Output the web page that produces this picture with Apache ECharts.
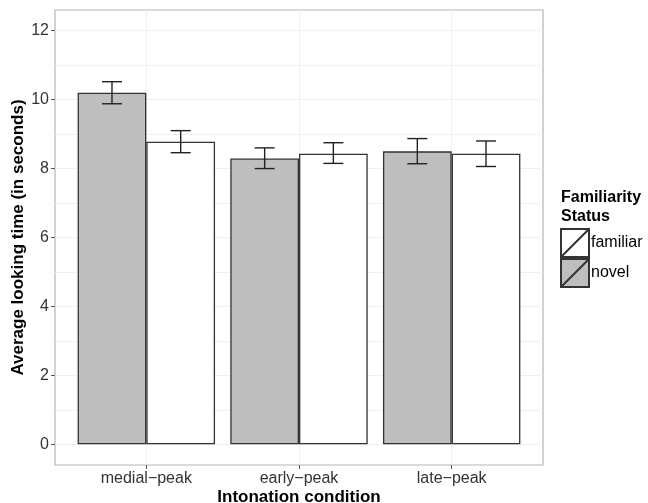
<!DOCTYPE html>
<html>
<head>
<meta charset="utf-8">
<script src="https://cdn.jsdelivr.net/npm/echarts@6/dist/echarts.min.js"></script>
<style>
  html, body { margin: 0; padding: 0; background: #fff; }
  #chart { width: 648px; height: 503px; }
</style>
</head>
<body>
<div id="chart"></div>
<script>
// Looking-time bar chart with error bars, ggplot-style panel.
var categories = ["medial\u2212peak", "early\u2212peak", "late\u2212peak"];
var novelMean = [10.2, 8.29, 8.5];
var novelLow = [9.88, 8.0, 8.14];
var novelHigh = [10.52, 8.6, 8.87];
var familiarMean = [8.78, 8.43, 8.43];
var familiarLow = [8.46, 8.15, 8.06];
var familiarHigh = [9.1, 8.75, 8.8];
var yTicks = [0, 2, 4, 6, 8, 10, 12];
var yMinor = [1, 3, 5, 7, 9, 11];

(function () {
  var el = document.getElementById("chart");
  var chart = echarts.init(el, null, { renderer: "canvas" });
  var FONT = "Liberation Sans";

  // error bar renderer; side -1 = left bar, +1 = right bar
  function errBar(side) {
    return function (params, api) {
      var i = api.value(0);
      var lo = api.coord([i, api.value(1)]);
      var hi = api.coord([i, api.value(2)]);
      var band = api.size([1, 0])[0];
      var x = lo[0] + side * band * 0.225;
      var half = 10;
      var style = { stroke: "#222", lineWidth: 1.4 };
      return {
        type: "group",
        children: [
          { type: "line", shape: { x1: x, y1: lo[1], x2: x, y2: hi[1] }, style: style },
          { type: "line", shape: { x1: x - half, y1: lo[1], x2: x + half, y2: lo[1] }, style: style },
          { type: "line", shape: { x1: x - half, y1: hi[1], x2: x + half, y2: hi[1] }, style: style }
        ]
      };
    };
  }

  var boxIcon = "path://M0,0L28,0L28,28L0,28Z M0,28L28,0";

  chart.setOption({
    backgroundColor: "#fff",
    animation: false,
    textStyle: { fontFamily: FONT },
    grid: [
      { left: 70, right: 120, top: 10, bottom: 38, containLabel: false, outerBoundsMode: "none" },
      { left: 55, right: 105, top: 10, bottom: 38, show: true, borderColor: "#b5b5b5", borderWidth: 1.2, backgroundColor: "#fff", z: 0, outerBoundsMode: "none" }
    ],
    xAxis: [
      {
        type: "category",
        gridIndex: 0,
        data: categories,
        name: "Intonation condition",
        nameLocation: "middle",
        nameGap: 24,
        nameMoveOverlap: false,
        nameTextStyle: { fontSize: 17, fontWeight: "bold", color: "#000", fontFamily: FONT },
        axisLine: { show: false, onZero: false },
        axisTick: { show: true, alignWithLabel: true, length: 4, lineStyle: { color: "#555" } },
        axisLabel: { fontSize: 16, color: "#333", margin: 6, fontFamily: FONT },
        splitLine: { show: false }
      },
      {
        type: "value",
        gridIndex: 1,
        min: 0.4,
        max: 3.6,
        axisLine: { show: false, onZero: false },
        axisTick: { show: false, customValues: [1, 2, 3] },
        axisLabel: { show: false, customValues: [1, 2, 3] },
        splitLine: { show: true, lineStyle: { color: "#f0f0f0", width: 1 } }
      }
    ],
    yAxis: [
      {
        type: "value",
        gridIndex: 0,
        min: -0.6,
        max: 12.6,
        offset: 15,
        name: "Average looking time (in seconds)",
        nameLocation: "middle",
        nameGap: 28,
        nameMoveOverlap: false,
        nameTextStyle: { fontSize: 17, fontWeight: "bold", color: "#000", fontFamily: FONT },
        axisLine: { show: false, onZero: false },
        axisTick: { show: true, length: 4, lineStyle: { color: "#555" }, customValues: yTicks },
        axisLabel: { fontSize: 16, color: "#333", margin: 6, customValues: yTicks, fontFamily: FONT },
        splitLine: { show: false }
      },
      {
        type: "value",
        gridIndex: 1,
        min: -0.6,
        max: 12.6,
        axisLine: { show: false, onZero: false },
        axisTick: { show: false, customValues: yTicks.concat(yMinor) },
        axisLabel: { show: false, customValues: yTicks.concat(yMinor) },
        splitLine: { show: true, lineStyle: { color: "#f0f0f0", width: 1 } }
      }
    ],
    legend: {
      orient: "vertical",
      left: 555,
      top: 223,
      itemWidth: 28,
      itemHeight: 28,
      itemGap: 0,
      data: [
        { name: "familiar", icon: boxIcon },
        { name: "novel", icon: boxIcon }
      ],
      textStyle: { fontSize: 16, color: "#000", fontFamily: FONT, padding: [0, 0, 0, -3] },
      selectedMode: false
    },
    graphic: [
      {
        type: "text",
        left: 561,
        top: 188,
        style: {
          text: "Familiarity\nStatus",
          font: "bold 16px " + FONT,
          lineHeight: 19,
          fill: "#000"
        }
      }
    ],
    series: [
      {
        name: "novel",
        type: "bar",
        xAxisIndex: 0,
        yAxisIndex: 0,
        barGap: 0,
        barCategoryGap: "10%",
        data: novelMean,
        itemStyle: { color: "#bebebe", borderColor: "#333", borderWidth: 1.3 },
        z: 3
      },
      {
        name: "familiar",
        type: "bar",
        xAxisIndex: 0,
        yAxisIndex: 0,
        barGap: 0,
        barCategoryGap: "10%",
        data: familiarMean,
        itemStyle: { color: "#fff", borderColor: "#333", borderWidth: 1.3 },
        z: 3
      },
      {
        type: "custom",
        xAxisIndex: 0,
        yAxisIndex: 0,
        renderItem: errBar(-1),
        data: novelMean.map(function (v, i) { return [i, novelLow[i], novelHigh[i]]; }),
        z: 5
      },
      {
        type: "custom",
        xAxisIndex: 0,
        yAxisIndex: 0,
        renderItem: errBar(1),
        data: familiarMean.map(function (v, i) { return [i, familiarLow[i], familiarHigh[i]]; }),
        z: 5
      }
    ]
  });

  window.addEventListener("resize", function () { chart.resize(); });
})();
</script>
</body>
</html>
